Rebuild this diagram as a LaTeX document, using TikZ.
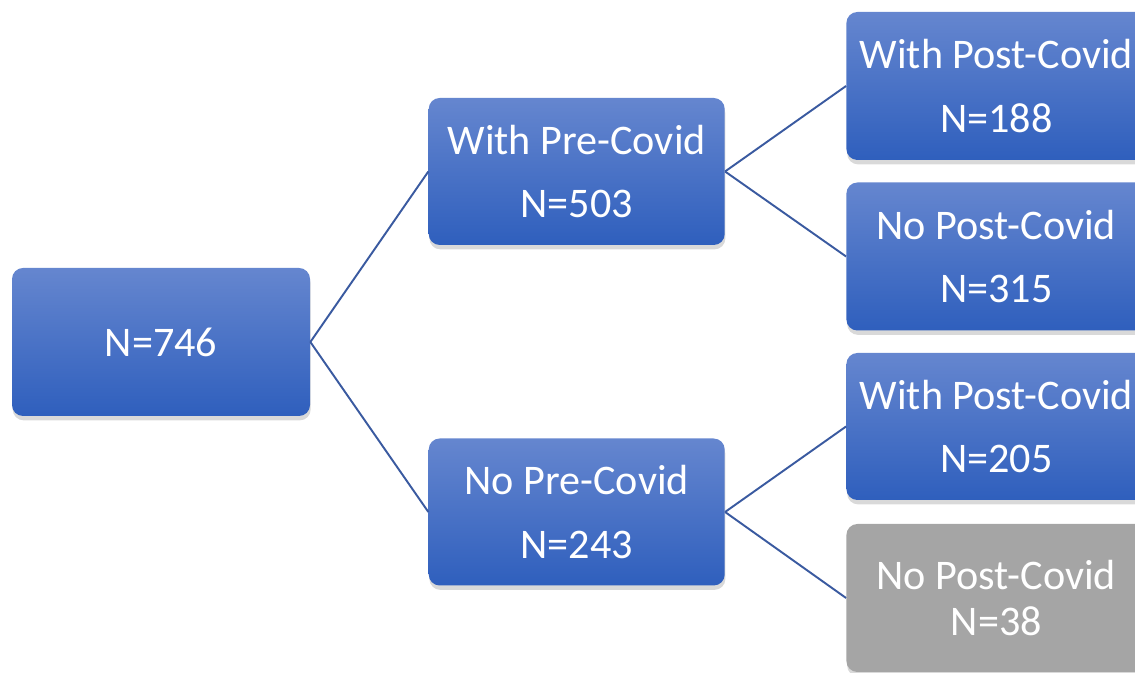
\documentclass[tikz,border=0pt]{standalone}
\usepackage{fontspec}
\setmainfont{Carlito}
\usepackage{tikz}
\usetikzlibrary{shapes,arrows,positioning,shadows}
\definecolor{boxtop}{RGB}{101,134,207}
\definecolor{boxbot}{RGB}{47,95,189}
\definecolor{boxgray}{RGB}{165,165,165}
\definecolor{linkblue}{RGB}{58,90,160}
\tikzstyle{block} = [rectangle, rounded corners=0.22cm, top color=boxtop, bottom color=boxbot, text=white, align=center,
  font=\fontsize{24}{36}\selectfont, drop shadow={shadow xshift=0.4pt, shadow yshift=-2.5pt, opacity=0.3}]
\tikzstyle{greyblock} = [block, top color=boxgray, bottom color=boxgray, font=\fontsize{24}{26.5}\selectfont]
\tikzstyle{link} = [draw=linkblue, line width=1.1pt]

\begin{document}
\begin{tikzpicture}[node distance=2.4cm]

    \clip (0,0) rectangle (22.7,13.46);

    \node [block, minimum width=5.96cm, minimum height=2.96cm, name = all] at (3.22,6.62) {N=746};

    \node [block, right = 2.36cm of all, yshift = 3.41cm, minimum width=5.92cm, minimum height=2.94cm, name = pre] {With Pre-Covid\\N=503};
    \node [block, right = 2.36cm of all, yshift = -3.40cm, minimum width=5.92cm, minimum height=2.94cm, name = nopre] {No Pre-Covid\\N=243};

    \node [block, right = 2.42cm of pre, yshift = 1.71cm, minimum width=6cm, minimum height=2.96cm, name = prepost] {With Post-Covid\\N=188};
    \node [block, right = 2.42cm of pre, yshift = -1.70cm, minimum width=6cm, minimum height=2.96cm, name = prenopost] {No Post-Covid\\N=315};

    \node [block, right = 2.42cm of nopre, yshift = 1.71cm, minimum width=6cm, minimum height=2.94cm, name = nopost] {With Post-Covid\\N=205};
    \node [greyblock, right = 2.42cm of nopre, yshift = -1.72cm, minimum width=6cm, minimum height=2.96cm, name = nonopost] {No Post-Covid\\N=38};

    \draw [link] (all.east) -- (pre.west);
    \draw [link] (all.east) -- (nopre.west);
    \draw [link] (pre.east) -- (prepost.west);
    \draw [link] (pre.east) -- (prenopost.west);
    \draw [link] (nopre.east) -- (nopost.west);
    \draw [link] (nopre.east) -- (nonopost.west);

\end{tikzpicture}
\end{document}
